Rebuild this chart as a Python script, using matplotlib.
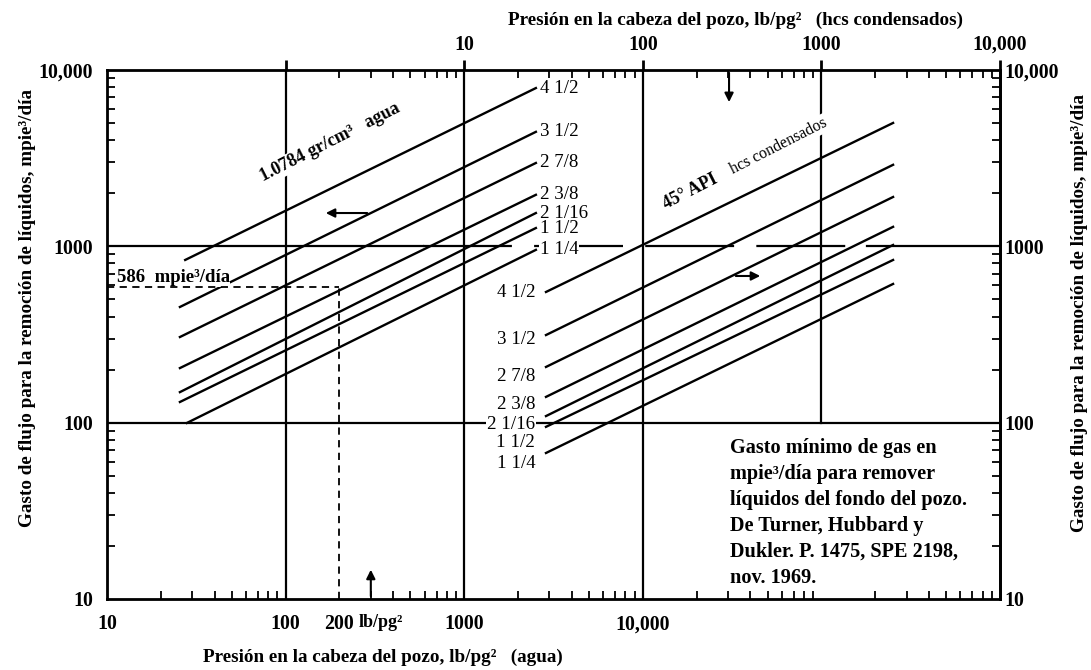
import matplotlib.pyplot as plt
import numpy as np
from matplotlib.ticker import LogLocator, NullFormatter

plt.rcParams['font.family'] = ['Liberation Serif', 'DejaVu Serif']
plt.rcParams['mathtext.default'] = 'regular'

# tubing sizes (pg)
sizes = ['4 1/2', '3 1/2', '2 7/8', '2 3/8', '2 1/16', '1 1/2', '1 1/4']

# water curves: pressure (lb/pg2, bottom axis) vs rate (mpie3/dia)
agua_p0 = [27.4, 25.6, 25.6, 25.6, 25.6, 25.6, 28.0]
agua_q0 = [837, 453, 306, 204, 149, 131, 99.6]
agua_p1 = [2520, 2520, 2520, 2520, 2520, 2520, 2520]
agua_q1 = [7900, 4460, 2970, 1960, 1545, 1270, 955]

# condensate curves: pressure (lb/pg2, top axis) vs rate
hcs_p0 = [28.7, 28.7, 28.7, 28.7, 28.7, 28.7, 28.7]
hcs_q0 = [551, 314, 207, 140, 109, 94.7, 67.3]
hcs_p1 = [2520, 2520, 2520, 2520, 2520, 2520, 2520]
hcs_q1 = [5010, 2900, 1905, 1290, 1018, 837, 612]
hcs_label_q = [545, 295, 182, 126, 97, 76.8, 58.4]

# worked example
ej_p = 200
ej_q = 586

font_b = dict(fontweight='bold')
tick_fs = 14.3
title_fs = 13.8

fig = plt.figure(figsize=(10.91, 6.70), dpi=100)
ax = fig.add_axes([107/1091, 1-599/670, 893/1091, 529/670])
ax.set_xscale('log')
ax.set_yscale('log')
ax.set_xlim(10, 1e6)
ax.set_ylim(10, 1e4)

for s in ax.spines.values():
    s.set_linewidth(2)

# grid lines
for xv in [100, 1000, 1e4]:
    ax.axvline(xv, color='k', lw=1.6, zorder=1)
ax.plot([1e5, 1e5], [100, 1e4], color='k', lw=1.6, zorder=1)
ax.axhline(100, color='k', lw=1.6, zorder=1)
ax.plot([10, 590], [1000, 1000], color='k', lw=1.6, zorder=1)
ax.plot([590, 1.75e5], [1000, 1000], color='k', lw=1.6, ls=(0, (40, 10)), zorder=1)
ax.plot([1.8e5, 1e6], [1000, 1000], color='k', lw=1.6, zorder=1)

# top axis for condensate pressure
axt = ax.twiny()
axt.set_xscale('log')
axt.set_xlim(0.1, 1e4)

# water lines
for i in range(len(sizes)):
    ax.plot([agua_p0[i], agua_p1[i]], [agua_q0[i], agua_q1[i]], color='k', lw=1.7, zorder=2)
    ax.text(agua_p1[i]*1.05, agua_q1[i], sizes[i], fontsize=13.6, ha='left', va='center',
            zorder=3, bbox=dict(facecolor='white', edgecolor='none', pad=0.5))

# condensate lines
for i in range(len(sizes)):
    axt.plot([hcs_p0[i], hcs_p1[i]], [hcs_q0[i], hcs_q1[i]], color='k', lw=1.7, zorder=2)
    axt.text(hcs_p0[i]*0.87, hcs_label_q[i], sizes[i], fontsize=13.6, ha='right', va='center',
             zorder=3, bbox=dict(facecolor='white', edgecolor='none', pad=0.5))

# example dashed lines
ax.plot([10, ej_p], [ej_q, ej_q], color='k', lw=1.3, ls=(0, (4, 3)), zorder=4)
ax.plot([ej_p, ej_p], [10, ej_q], color='k', lw=1.3, ls=(0, (4, 3)), zorder=4)
ax.text(0.011, 0.607, '586  mpie³/día', transform=ax.transAxes, fontsize=13.5, ha='left',
        va='center', zorder=3, bbox=dict(facecolor='white', edgecolor='none', pad=0.3), **font_b)

# family labels
ax.text(177, 3870, '1.0784 gr/cm³   agua', fontsize=13, rotation=27, ha='center', va='center',
        rotation_mode='anchor', zorder=3,
        bbox=dict(facecolor='white', edgecolor='none', pad=1), **font_b)
axt.text(184, 2040, '45° API', fontsize=12.8, rotation=27, ha='center', va='center',
         rotation_mode='anchor', zorder=3, **font_b)
axt.text(579, 3710, 'hcs condensados', fontsize=11.4, rotation=27, ha='center', va='center',
         rotation_mode='anchor', zorder=3,
         bbox=dict(facecolor='white', edgecolor='none', pad=1))

# arrows
arr = dict(arrowstyle='-|>', color='k', lw=1.5, mutation_scale=13)
ax.annotate('', xy=(162, 1545), xytext=(297, 1545), arrowprops=arr)
axt.annotate('', xy=(471, 679), xytext=(320, 679), arrowprops=arr)
ax.annotate('', xy=(300, 15.2), xytext=(300, 10), arrowprops=arr)
axt.annotate('', xy=(304, 6340), xytext=(304, 1e4), arrowprops=arr)

# note box
ax.text(0.698, 0.305, 'Gasto mínimo de gas en\nmpie³/día para remover\nlíquidos del fondo del pozo.\n'
        'De Turner, Hubbard y\nDukler. P. 1475, SPE 2198,\nnov. 1969.',
        transform=ax.transAxes, fontsize=14.6, ha='left', va='top', linespacing=1.4, **font_b)

# ticks
sub = LogLocator(base=10, subs=np.arange(2, 10))
ax.set_xticks([10, 100, 200, 1000, 10000], ['10', '100', '200', '1000', '10,000'])
ax.xaxis.set_minor_locator(sub)
ax.xaxis.set_minor_formatter(NullFormatter())
ax.set_yticks([10, 100, 1000, 10000], ['10', '100', '1000', '10,000'])
ax.yaxis.set_minor_locator(sub)
ax.yaxis.set_minor_formatter(NullFormatter())
ax.tick_params(axis='x', which='major', length=0, pad=11, labelsize=tick_fs)
ax.tick_params(axis='y', which='major', length=0, pad=10, labelsize=tick_fs)
ax.tick_params(which='minor', direction='in', length=6, width=1.3)

axt.set_xticks([1, 10, 100, 1000, 10000], ['', '10', '100', '1000', '10,000'])
axt.xaxis.set_minor_locator(sub)
axt.xaxis.set_minor_formatter(NullFormatter())
axt.tick_params(axis='x', which='major', direction='out', length=7, width=2, pad=4, labelsize=tick_fs)
axt.tick_params(axis='x', which='minor', direction='in', length=6, width=1.3)

axr = ax.secondary_yaxis('right')
axr.set_yticks([10, 100, 1000, 10000], ['10', '100', '1000', '10,000'])
axr.yaxis.set_minor_locator(sub)
axr.yaxis.set_minor_formatter(NullFormatter())
axr.tick_params(axis='y', which='major', length=0, pad=3, labelsize=tick_fs)
axr.tick_params(axis='y', which='minor', direction='in', length=6, width=1.3)
axr.spines['right'].set_linewidth(2)

for a in [ax, axt, axr]:
    for lab in a.get_xticklabels() + a.get_yticklabels():
        lab.set_fontweight('bold')

ax.text(256, -0.045, 'lb/pg²', transform=ax.get_xaxis_transform(), fontsize=13,
        ha='left', va='center', **font_b)

# axis titles
fig.text(383/1091, 1-657/670, 'Presión en la cabeza del pozo, lb/pg²   (agua)',
         ha='center', va='center', fontsize=title_fs, **font_b)
fig.text(735/1091, 1-20/670, 'Presión en la cabeza del pozo, lb/pg²   (hcs condensados)',
         ha='center', va='center', fontsize=title_fs, **font_b)
fig.text(28/1091, 1-308/670, 'Gasto de flujo para la remoción de líquidos, mpie³/día',
         rotation=90, ha='center', va='center', fontsize=title_fs, **font_b)
fig.text(1080/1091, 1-313/670, 'Gasto de flujo para la remoción de líquidos, mpie³/día',
         rotation=90, ha='center', va='center', fontsize=title_fs, **font_b)

fig.savefig('out.png', dpi=100)
